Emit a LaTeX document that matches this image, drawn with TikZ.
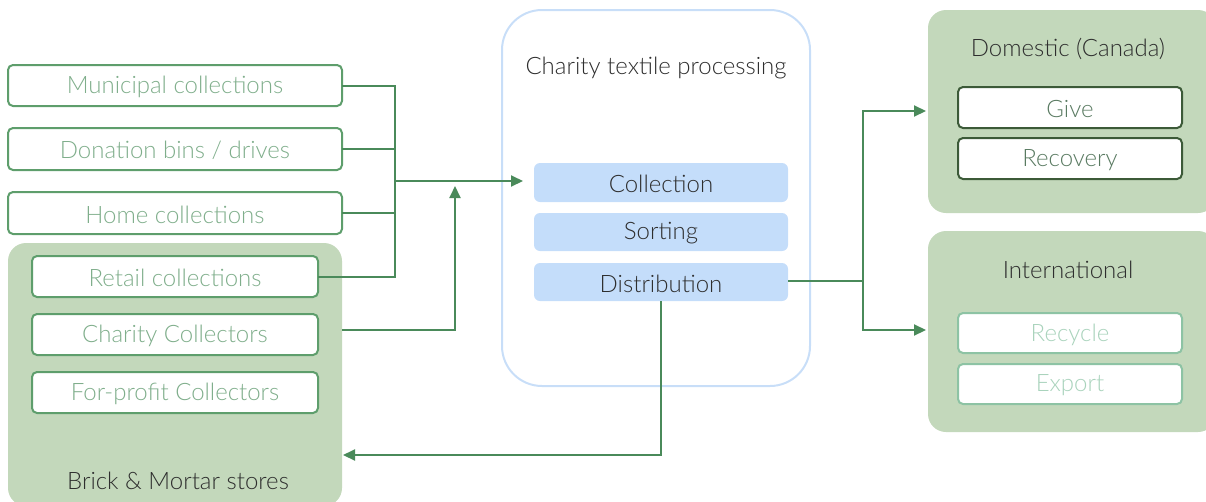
\documentclass[tikz,border=0pt]{standalone}
\usepackage{fontspec}
\setmainfont{Lato Light}
\usetikzlibrary{arrows.meta}
\definecolor{lineg}{HTML}{4A8A5A}
\definecolor{boxg}{HTML}{5E9E6C}
\definecolor{txtg}{HTML}{7FAE8B}
\definecolor{panelg}{HTML}{C3D8BB}
\definecolor{procb}{HTML}{C4DDFA}
\definecolor{frameb}{HTML}{C8DEF8}
\definecolor{darkg}{HTML}{3C5A38}
\definecolor{paleg}{HTML}{8DC3A4}
\definecolor{paletxt}{HTML}{A9D3BC}
\definecolor{ink}{HTML}{2E2E2E}
\tikzset{
  txt/.style={font=\fontsize{24}{27}\selectfont},
  lbl/.style={pos=.5, yshift=-1.5pt},
  source/.style={draw=boxg, line width=2pt, rounded corners=5pt, fill=white,
    text=txtg, txt},
  panel/.style={fill=panelg, rounded corners=18pt},
  stage/.style={fill=procb, rounded corners=6pt, text=ink, txt},
  dom/.style={draw=darkg, line width=2pt, rounded corners=5pt, fill=white,
    text=txtg!70!black, txt},
  intl/.style={draw=paleg, line width=2pt, rounded corners=5pt, fill=white,
    text=paletxt, txt},
  title/.style={text=ink, txt},
  flow/.style={draw=lineg, line width=2pt},
  arr/.style={flow, -{Triangle[length=12pt,width=11pt]}}
}
\begin{document}
\begin{tikzpicture}[x=1pt,y=-1pt]
\useasboundingbox (0,0) rectangle (1206,501);
\clip (0,0) rectangle (1206,501);

% panels
\path[panel] (8,243) rectangle (342,506);
\node[title] (bm) at (178,481) {Brick \& Mortar stores};
\path[panel] (928,10) rectangle (1216,213);
\node[title] (domt) at (1068,49) {Domestic (Canada)};
\path[panel] (928,231) rectangle (1216,432);
\node[title] (intt) at (1068,270) {International};

% processing frame
\draw[frameb, line width=2pt, rounded corners=40pt] (502,10) rectangle (810,386);
\node[title] (proct) at (656,68) {Charity textile processing};

% sources
\path[source] (8,65) rectangle (342,106) node[lbl] (mun) {Municipal collections};
\path[source] (8,128) rectangle (342,170) node[lbl] (don) {Donation bins / drives};
\path[source] (8,192) rectangle (342,234) node[lbl] (home) {Home collections};
\path[source] (32,256) rectangle (318,297) node[lbl] (ret) {Retail collections};
\path[source] (32,314) rectangle (318,355) node[lbl] (cc) {Charity Collectors};
\path[source] (32,372) rectangle (318,413) node[lbl] (fp) {For-profit Collectors};

% stages
\path[stage] (534,163) rectangle (788,202) node[lbl] (col) {Collection};
\path[stage] (534,213) rectangle (788,251) node[lbl] (sort) {Sorting};
\path[stage] (534,263) rectangle (788,301) node[lbl] (dist) {Distribution};

% destinations
\path[dom] (958,87) rectangle (1182,128) node[lbl] (give) {Give};
\path[dom] (958,138) rectangle (1182,179) node[lbl] (rec) {Recovery};
\path[intl] (958,313) rectangle (1182,353) node[lbl] (recy) {Recycle};
\path[intl] (958,364) rectangle (1182,404) node[lbl] (exp) {Export};

% connector anchors
\coordinate (mo) at (342,86);
\coordinate (do) at (342,149);
\coordinate (ho) at (342,213);
\coordinate (ro) at (318,277);
\coordinate (bus) at (395,181);
\coordinate (colIn) at (523,181);
\coordinate (ccOut) at (342,330);
\coordinate (ccUp) at (455,186);
\coordinate (distR) at (788,281);
\coordinate (distB) at (661,301);
\coordinate (split) at (863,281);
\coordinate (domIn) at (926,111);
\coordinate (intIn) at (926,330);
\coordinate (bmIn) at (343,455);

% collection bus
\draw[flow] (mo) -| (bus) |- (ro);
\draw[flow] (do) -- (do -| bus);
\draw[flow] (ho) -- (ho -| bus);
\draw[arr] (bus) -- (colIn);
\draw[arr] (ccOut) -| (ccUp);

% distribution outputs
\draw[flow] (distR) -- (split);
\draw[arr] (split) |- (domIn);
\draw[arr] (split) |- (intIn);
\draw[arr] (distB) |- (bmIn);
\end{tikzpicture}
\end{document}
